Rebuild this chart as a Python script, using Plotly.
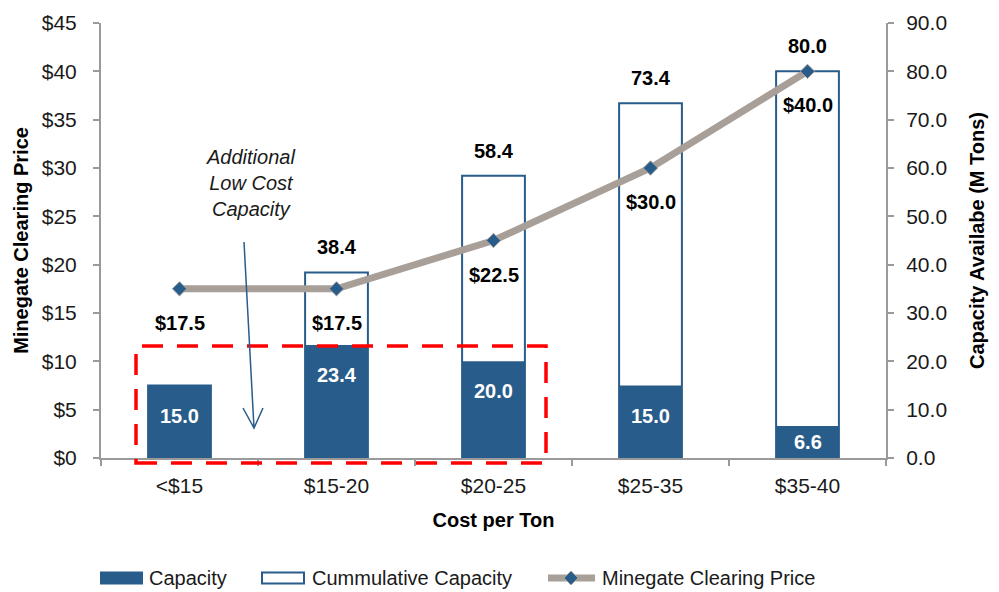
import plotly.graph_objects as go

# ---- data ----
categories = ["<$15", "$15-20", "$20-25", "$25-35", "$35-40"]
capacity = [15.0, 23.4, 20.0, 15.0, 6.6]            # M tons per cost band
cumulative = [15.0, 38.4, 58.4, 73.4, 80.0]         # running total, M tons
clearing_price = [17.5, 17.5, 22.5, 30.0, 40.0]     # $/ton
price_ticks = [0, 5, 10, 15, 20, 25, 30, 35, 40, 45]
capacity_ticks = [0, 10, 20, 30, 40, 50, 60, 70, 80, 90]

BLUE = "#285C8B"
GREY_LINE = "#A89F99"
FONT = "Liberation Sans, Arial, sans-serif"
TEXT = "#1a1a1a"

W, H = 999, 592
ML, MR, MT, MB = 101, 113, 23, 134
PLOT_W = W - ML - MR
PLOT_H = H - MT - MB
CAP_MAX = 90
PRICE_MAX = 45


def px_x(px):
    return (px - ML) / PLOT_W


def px_y(py):
    return (H - MB - py) / PLOT_H


fig = go.Figure()

# cumulative capacity: open bars
fig.add_trace(go.Bar(
    x=categories, y=cumulative, yaxis="y", width=0.4,
    marker=dict(color="white", line=dict(color=BLUE, width=2)),
    name="Cummulative Capacity", showlegend=False, hoverinfo="skip",
))
# capacity per band: filled bars
fig.add_trace(go.Bar(
    x=categories, y=capacity, yaxis="y", width=0.4,
    marker=dict(color=BLUE, line=dict(color=BLUE, width=0)),
    name="Capacity", showlegend=False,
))
# clearing price line
fig.add_trace(go.Scatter(
    x=categories, y=clearing_price, yaxis="y2", mode="lines+markers",
    line=dict(color=GREY_LINE, width=7),
    marker=dict(symbol="diamond", size=11, color=BLUE,
                line=dict(color=GREY_LINE, width=1)),
    name="Minegate Clearing Price", showlegend=False,
))

annotations = []
LABEL_SIZE = 20

# capacity values inside the filled bars (white)
for cat, v in zip(categories, capacity):
    bar_px = v / CAP_MAX * PLOT_H
    annotations.append(dict(
        x=cat, y=v, xref="x", yref="y", text=f"<b>{v:.1f}</b>",
        showarrow=False, yanchor="middle", yshift=-min(30, bar_px / 2),
        font=dict(family=FONT, size=LABEL_SIZE, color="white"),
    ))

# cumulative values above the open bars (first band equals its own capacity)
for cat, v, c in zip(categories, cumulative, capacity):
    if v == c:
        continue
    annotations.append(dict(
        x=cat, y=v, xref="x", yref="y", text=f"<b>{v:.1f}</b>",
        showarrow=False, yanchor="middle", yshift=25,
        font=dict(family=FONT, size=LABEL_SIZE, color="black"),
    ))

# clearing price labels below the markers
for cat, p in zip(categories, clearing_price):
    annotations.append(dict(
        x=cat, y=p, xref="x", yref="y2", text=f"<b>${p:.1f}</b>",
        showarrow=False, yanchor="middle", yshift=-34,
        font=dict(family=FONT, size=LABEL_SIZE, color="black"),
    ))

# callout text
annotations.append(dict(
    x=px_x(250), y=px_y(183), xref="paper", yref="paper",
    text="<i>Additional<br>Low Cost<br>Capacity</i>", showarrow=False,
    align="center", xanchor="center", yanchor="middle",
    font=dict(family=FONT, size=20, color=TEXT),
))

# legend labels
LEGEND_Y = 578
legend_items = [(147, "Capacity"), (310, "Cummulative Capacity"), (600, "Minegate Clearing Price")]
for lx, label in legend_items:
    annotations.append(dict(
        x=px_x(lx), y=px_y(LEGEND_Y), xref="paper", yref="paper", text=label,
        showarrow=False, xanchor="left", yanchor="middle",
        font=dict(family=FONT, size=20, color=TEXT),
    ))

shapes = []


def P(px, py):
    return f"{px_x(px):.5f},{px_y(py):.5f}"


# dashed highlight around the low-cost bands (slightly below the axis line)
shapes.append(dict(
    type="rect", xref="paper", yref="paper",
    x0=px_x(136), x1=px_x(546), y0=px_y(463), y1=px_y(346),
    line=dict(color="#FF0000", width=3.5, dash="21px,14px"),
    fillcolor="rgba(0,0,0,0)", layer="above",
))

# callout arrow with an open head
shapes.append(dict(
    type="path", xref="paper", yref="paper",
    path=f"M {P(244, 242)} L {P(254, 428)} M {P(243, 408)} L {P(254, 428)} L {P(263, 408)}",
    line=dict(color=BLUE, width=1.5), layer="above",
))

# legend swatches
shapes.append(dict(type="rect", xref="paper", yref="paper",
                   x0=px_x(100), x1=px_x(143), y0=px_y(LEGEND_Y + 6.5), y1=px_y(LEGEND_Y - 6.5),
                   fillcolor=BLUE, line=dict(width=0)))
shapes.append(dict(type="rect", xref="paper", yref="paper",
                   x0=px_x(262), x1=px_x(304), y0=px_y(LEGEND_Y + 5.5), y1=px_y(LEGEND_Y - 5.5),
                   fillcolor="white", line=dict(color=BLUE, width=2)))
shapes.append(dict(type="line", xref="paper", yref="paper",
                   x0=px_x(548), x1=px_x(595), y0=px_y(LEGEND_Y), y1=px_y(LEGEND_Y),
                   line=dict(color=GREY_LINE, width=7)))
shapes.append(dict(type="path", xref="paper", yref="paper",
                   path=(f"M {P(571, LEGEND_Y - 7)} L {P(578, LEGEND_Y)} "
                         f"L {P(571, LEGEND_Y + 7)} L {P(564, LEGEND_Y)} Z"),
                   fillcolor=BLUE, line=dict(color=GREY_LINE, width=1)))

axis_line = dict(showline=True, linecolor="#9a9a9a", linewidth=2,
                 ticks="outside", ticklen=6, tickcolor="#9a9a9a", tickwidth=2,
                 showgrid=False, zeroline=False)

TICK_SIZE = 21
TITLE_SIZE = 20

fig.update_layout(
    width=W, height=H,
    margin=dict(l=ML, r=MR, t=MT, b=MB, autoexpand=False),
    paper_bgcolor="white", plot_bgcolor="white",
    barmode="overlay", bargap=0.6,
    font=dict(family=FONT, color=TEXT),
    xaxis=dict(
        type="category", range=[-0.5, 4.5], tickson="boundaries",
        tickfont=dict(size=TICK_SIZE, family=FONT, color=TEXT),
        ticklabelstandoff=8,
        title=dict(text="<b>Cost per Ton</b>", font=dict(size=TITLE_SIZE, family=FONT, color="black"),
                   standoff=17),
        **axis_line,
    ),
    yaxis=dict(
        side="right", range=[0, CAP_MAX], tickvals=capacity_ticks,
        ticktext=[f"{t:.1f}" for t in capacity_ticks],
        tickfont=dict(size=TICK_SIZE, family=FONT, color=TEXT),
        ticklabelstandoff=8,
        title=dict(text="<b>Capacity Availabe (M Tons)</b>",
                   font=dict(size=TITLE_SIZE, family=FONT, color="black"), standoff=24),
        **axis_line,
    ),
    yaxis2=dict(
        side="left", overlaying="y", range=[0, PRICE_MAX], tickvals=price_ticks,
        ticktext=[f"${t}" for t in price_ticks],
        tickfont=dict(size=TICK_SIZE, family=FONT, color=TEXT),
        ticklabelstandoff=12,
        title=dict(text="<b>Minegate Clearing Price</b>",
                   font=dict(size=TITLE_SIZE, family=FONT, color="black"), standoff=8),
        **axis_line,
    ),
    annotations=annotations,
    shapes=shapes,
    showlegend=False,
)

fig.write_html("out.html")
